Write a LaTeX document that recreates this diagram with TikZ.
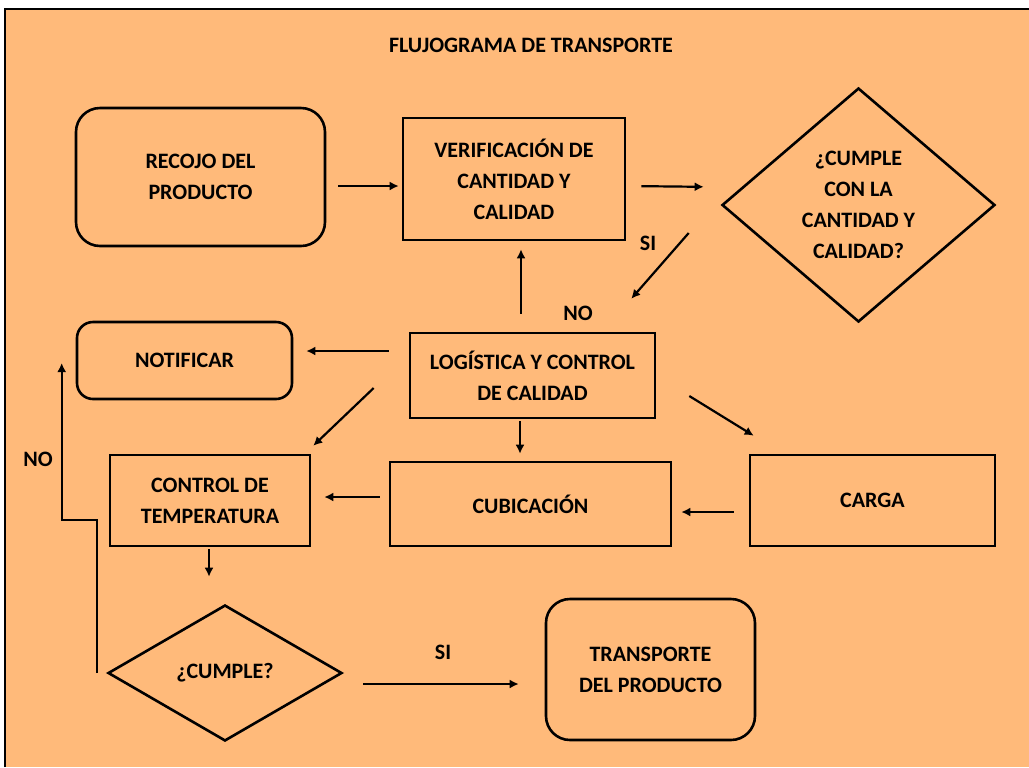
\documentclass[tikz,border=0pt]{standalone}
\usepackage{fontspec}
\setmainfont{Carlito}
\usetikzlibrary{shapes.geometric,arrows.meta}
\definecolor{fondo}{RGB}{255,186,122}
\tikzset{
	texto/.style={font=\fontsize{11}{15.5}\selectfont\bfseries},
	caja/.style={texto, draw, line width=1.3pt, align=center, inner sep=0pt},
	redonda/.style={caja, rounded corners=12pt},
	rombo/.style={caja, diamond},
	flecha/.style={line width=1.1pt, -{Latex[length=4.5pt,width=4.5pt]}},
}

\begin{document}
\begin{tikzpicture}[x=0.5pt,y=-0.5pt]
\useasboundingbox (0,0) rectangle (1029,767);
\fill[fondo] (5,9) rectangle (1029,767);
\draw[line width=1.3pt] (5,767) -- (5,9) -- (1029,9);
\node[texto] (titulo) at (531,45) {FLUJOGRAMA DE TRANSPORTE};

% fila superior
\node[redonda, minimum width=124.5pt, minimum height=69pt] (recojo) at (200.5,177) {RECOJO DEL\\PRODUCTO};
\node[caja, minimum width=111pt, minimum height=61pt] (verif) at (514,179) {VERIFICACIÓN DE\\CANTIDAD Y\\CALIDAD};
\node[rombo, minimum width=136.5pt, minimum height=117pt] (cumple) at (858.5,205) {¿CUMPLE\\CON LA\\CANTIDAD Y\\CALIDAD?};

% fila central
\node[caja, minimum width=122.5pt, minimum height=42.5pt] (logis) at (532.5,375.5) {LOGÍSTICA Y CONTROL\\DE CALIDAD};
\node[redonda, rounded corners=8pt, minimum width=107.5pt, minimum height=38.5pt] (notif) at (184.5,360.5) {NOTIFICAR};
\node[caja, minimum width=100pt, minimum height=45.5pt] (ctemp) at (210,500.5) {CONTROL DE\\TEMPERATURA};
\node[caja, minimum width=140.5pt, minimum height=42pt] (cubic) at (530.5,504) {CUBICACIÓN};
\node[caja, minimum width=122.5pt, minimum height=45.5pt] (carga) at (872.5,500.5) {CARGA};

% fila inferior
\node[rombo, minimum width=117pt, minimum height=68pt] (cumpleT) at (225,673) {¿CUMPLE?};
\node[redonda, minimum width=104.5pt, minimum height=70.5pt] (transp) at (650.5,669.5) {TRANSPORTE\\DEL PRODUCTO};

\node[texto] (si1) at (648,243) {SI};
\node[texto] (no1) at (578,313) {NO};
\node[texto] (no2) at (38,459) {NO};
\node[texto] (si2) at (443,652) {SI};

\draw[flecha, shorten <=6pt, shorten >=1.5pt] ([yshift=-4.5pt]recojo.east) -- ([yshift=-3.5pt]verif.west);
\draw[flecha, shorten <=7.5pt, shorten >=8.5pt] ([yshift=-3.5pt]verif.east) -- ([yshift=9pt]cumple.west);
\draw[flecha] ([xshift=-16pt,yshift=-14pt]cumple.west) -- ([xshift=-12.5pt,yshift=16.5pt]logis.north east);
\draw[flecha, shorten <=9pt, shorten >=4pt] ([xshift=-5.75pt]logis.north) -- ([xshift=3.5pt]verif.south);
\draw[flecha, shorten <=10pt, shorten >=6.5pt] ([yshift=12.25pt]logis.west) -- ([yshift=4.75pt]notif.east);
\draw[flecha] ([xshift=-17.5pt,yshift=-6.25pt]logis.west) -- ([xshift=1pt,yshift=4pt]ctemp.north east);
\draw[flecha, shorten <=1pt, shorten >=3.5pt] ([xshift=-6.25pt]logis.south) -- ([xshift=-5.25pt]cubic.north);
\draw[flecha] ([xshift=16.5pt,yshift=-10.25pt]logis.east) -- ([xshift=2.5pt,yshift=9pt]carga.north west);
\draw[flecha, shorten <=7.5pt, shorten >=4.5pt] ([yshift=-5.75pt]carga.west) -- ([yshift=-4pt]cubic.east);
\draw[flecha, shorten <=4.5pt, shorten >=6.5pt] ([yshift=3.5pt]cubic.west) -- ([yshift=1.75pt]ctemp.east);
\draw[flecha, shorten <=1pt, shorten >=13.5pt] ([xshift=-0.5pt]ctemp.south) -- ([xshift=-8pt]cumpleT.north);
\draw[flecha, shorten <=10pt, shorten >=13pt] ([yshift=-5.5pt]cumpleT.east) -- ([yshift=-7.25pt]transp.west);
\draw[flecha] ([xshift=-5pt]cumpleT.west) -- ++(0,-153) -| ([xshift=-7pt,yshift=-1.25pt]notif.west);
\end{tikzpicture}
\end{document}
